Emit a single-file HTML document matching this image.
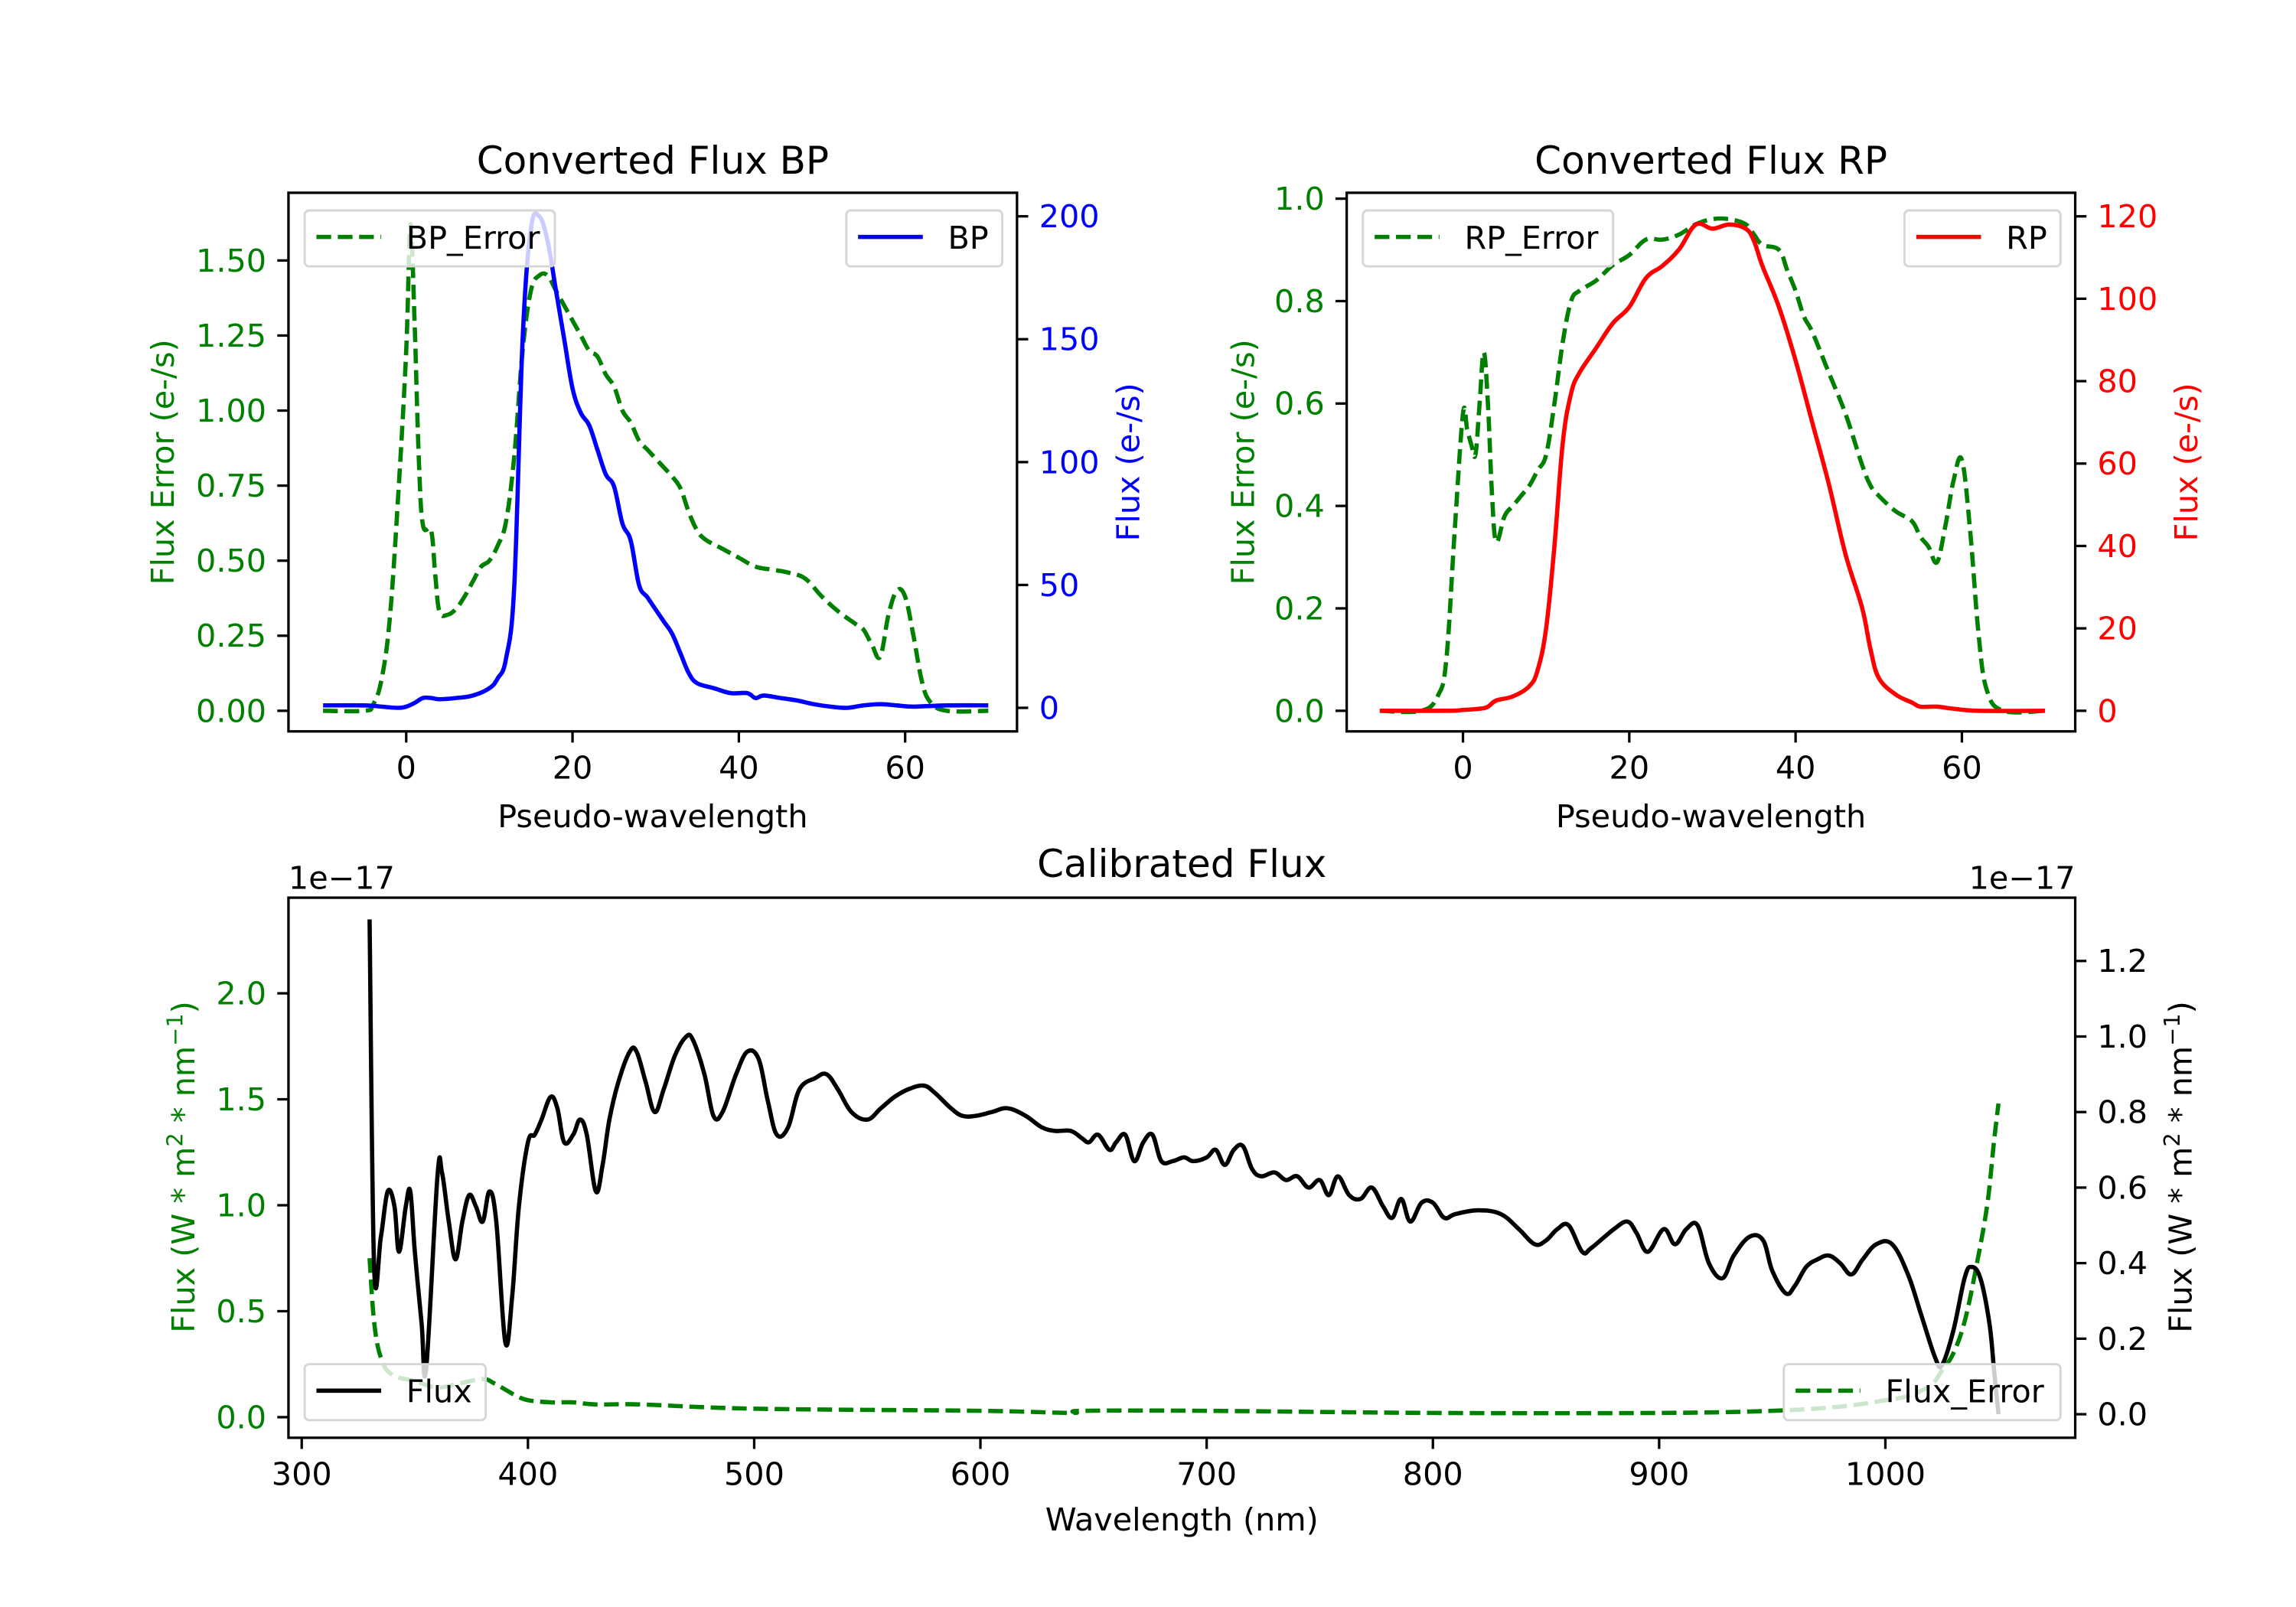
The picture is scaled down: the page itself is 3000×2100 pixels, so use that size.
<!DOCTYPE html>
<html><head><meta charset="utf-8"><style>
html,body{margin:0;padding:0;background:#fff;}
svg{display:block;font-family:"DejaVu Sans","Liberation Sans",sans-serif;}
</style></head><body>
<svg id="fig" width="3000" height="2100" viewBox="0 0 1560 1092" xmlns="http://www.w3.org/2000/svg"></svg>
<script>
// ---------- data ----------
const bpErrX=[-10,-5,-4,-3,-2,-1,0,0.5,1,1.5,2,3,3.5,4,5,6,7,8,9,10,11,12,13,14,15,16,17,18,19,20,21,22,23,24,25,26,27,28,29,30,31,32,33,34,35,36,38,40,42,44,46,48,50,52,54,55,56,57,58,59,60,61,62,63,65,70];
const bpErrY=[0,0,0.02,0.1,0.3,0.7,1.2,1.62,1.3,0.85,0.62,0.6,0.45,0.33,0.32,0.34,0.38,0.43,0.48,0.5,0.55,0.63,0.85,1.2,1.4,1.45,1.45,1.4,1.35,1.3,1.25,1.2,1.18,1.12,1.08,1.0,0.96,0.9,0.87,0.84,0.81,0.78,0.74,0.66,0.6,0.57,0.54,0.51,0.48,0.47,0.46,0.44,0.38,0.33,0.29,0.27,0.22,0.18,0.32,0.4,0.38,0.25,0.1,0.03,0,0];
const bpX=[-10,-5,-3,-1,0,1,2,3,4,6,8,10,11,12,13,14,15,16,17,18,19,20,21,22,23,24,25,26,27,28,29,30,31,32,33,34,35,37,39,41,42,43,45,47,49,51,53,55,57,59,61,65,70];
const bpY=[1,1,0.5,0,0.5,2,4,4,3.5,4,5,8,12,20,50,150,195,200,190,170,150,130,120,115,105,95,90,75,68,50,45,40,35,30,22,14,10,8,6,6,4,5,4,3,1.5,0.5,0,1,1.5,1,0.5,1,1];
const rpErrX=[-10,-5,-3,-2,-1,0,0.5,1,1.5,2,2.5,3,3.5,4,5,6,7,8,9,10,11,12,13,14,16,18,20,22,24,26,28,30,32,34,35,36,38,39,40,41,42,44,46,48,49,50,52,54,55,56,57,58,59,60,61,62,63,65,70];
const rpErrY=[0,0,0.03,0.1,0.35,0.58,0.55,0.52,0.5,0.6,0.7,0.6,0.42,0.33,0.38,0.4,0.42,0.44,0.47,0.5,0.6,0.72,0.8,0.82,0.84,0.87,0.89,0.92,0.92,0.93,0.95,0.96,0.96,0.95,0.93,0.91,0.9,0.86,0.82,0.77,0.74,0.66,0.58,0.48,0.44,0.42,0.39,0.37,0.34,0.32,0.29,0.36,0.45,0.49,0.35,0.15,0.04,0,0];
const rpX=[-10,-2,0,2,3,4,6,8,9,10,11,12,13,14,16,18,20,22,24,26,28,30,32,34,35,36,38,40,42,44,46,48,49,50,52,54,55,57,59,62,70];
const rpY=[0,0,0.2,0.5,1,2.5,3.5,6,10,20,40,65,77,82,88,94,98,105,108,112,118,117,118,117,114,108,98,85,70,55,38,25,15,8,4,2,1,1,0.5,0,0];
const calWl=[330,332,335,338,341,343,346,348,350,353,355,360,362,365,368,371,374,377,380,383,386,390,393,396,400,403,406,410,413,416,420,423,426,430,433,436,440,445,448,452,456,460,465,470,473,478,482,486,492,497,502,506,510,515,520,527,532,537,543,550,556,562,568,575,580,587,592,598,605,612,620,627,633,640,645,648,652,657,660,664,668,672,676,680,685,690,694,700,704,708,712,716,720,724,730,735,740,745,750,754,758,763,768,773,778,782,786,790,795,800,805,810,820,830,838,845,850,855,860,866,870,880,886,890,895,902,907,912,917,922,928,933,940,946,950,956,960,965,970,975,980,985,990,996,1003,1010,1016,1022,1025,1030,1035,1038,1042,1046,1048,1050];
const calFlux=[1.31,0.39,0.47,0.59,0.55,0.43,0.55,0.59,0.43,0.24,0.12,0.63,0.64,0.51,0.41,0.51,0.58,0.55,0.51,0.59,0.51,0.19,0.31,0.55,0.72,0.74,0.78,0.84,0.81,0.72,0.74,0.78,0.74,0.59,0.66,0.78,0.88,0.96,0.96,0.88,0.80,0.86,0.95,1.00,0.99,0.90,0.79,0.80,0.90,0.96,0.94,0.83,0.74,0.76,0.86,0.89,0.90,0.86,0.80,0.78,0.81,0.84,0.86,0.87,0.85,0.81,0.79,0.79,0.80,0.81,0.79,0.76,0.75,0.75,0.73,0.72,0.74,0.70,0.72,0.74,0.67,0.72,0.74,0.67,0.67,0.68,0.67,0.68,0.70,0.66,0.70,0.71,0.65,0.63,0.64,0.62,0.63,0.60,0.62,0.58,0.63,0.58,0.57,0.60,0.55,0.52,0.57,0.51,0.56,0.56,0.52,0.53,0.54,0.53,0.49,0.45,0.46,0.49,0.50,0.43,0.44,0.49,0.51,0.48,0.43,0.49,0.45,0.49,0.50,0.40,0.36,0.42,0.47,0.46,0.38,0.32,0.34,0.39,0.41,0.42,0.40,0.37,0.41,0.45,0.45,0.37,0.26,0.15,0.13,0.22,0.36,0.39,0.36,0.24,0.12,0.0];
const errWl=[330,332,335,340,350,360,370,380,385,390,395,400,410,420,430,450,500,600,640,645,700,800,900,950,980,1000,1010,1020,1025,1030,1035,1040,1045,1048,1050];
const errFlux=[0.75,0.45,0.28,0.2,0.17,0.14,0.16,0.18,0.16,0.13,0.1,0.08,0.07,0.07,0.06,0.06,0.04,0.03,0.02,0.03,0.03,0.02,0.02,0.03,0.05,0.08,0.1,0.15,0.22,0.3,0.45,0.7,1.0,1.3,1.48];
const bpLeftTicks=[0,0.25,0.5,0.75,1.0,1.25,1.5];
const bpRightTicks=[0,50,100,150,200];
const rpLeftTicks=[0,0.2,0.4,0.6,0.8,1.0];
const rpRightTicks=[0,20,40,60,80,100,120];
const pwTicks=[0,20,40,60];
const wlTicks=[300,400,500,600,700,800,900,1000];
const calLeftTicks=[0,0.5,1.0,1.5,2.0];
const calRightTicks=[0,0.2,0.4,0.6,0.8,1.0,1.2];

// ---------- helpers ----------
const NS="http://www.w3.org/2000/svg";
const svg=document.getElementById('fig');
function el(tag,attrs,parent,txt){const e=document.createElementNS(NS,tag);for(const k in attrs)e.setAttribute(k,attrs[k]);if(txt!==undefined)e.textContent=txt;(parent||svg).appendChild(e);return e;}
function lin(d0,d1,p0,p1){return v=>p0+(v-d0)*(p1-p0)/(d1-d0);}
const LW=2.9, DASH='10,4.5';
function path(xs,ys,sx,sy,stroke,dash,name,clip){
  const P=xs.map((x,i)=>[sx(x),sy(ys[i])]);
  let d='M'+P[0][0].toFixed(2)+','+P[0][1].toFixed(2);
  const t=0.18;
  for(let i=0;i<P.length-1;i++){
    const p0=P[Math.max(0,i-1)],p1=P[i],p2=P[i+1],p3=P[Math.min(P.length-1,i+2)];
    const c1=[p1[0]+(p2[0]-p0[0])*t,p1[1]+(p2[1]-p0[1])*t];
    const c2=[p2[0]-(p3[0]-p1[0])*t,p2[1]-(p3[1]-p1[1])*t];
    d+='C'+c1[0].toFixed(2)+','+c1[1].toFixed(2)+' '+c2[0].toFixed(2)+','+c2[1].toFixed(2)+' '+p2[0].toFixed(2)+','+p2[1].toFixed(2);
  }
  const p=el('path',{d:d,fill:'none',stroke:stroke,'stroke-width':LW,'stroke-linejoin':'round'});
  if(dash)p.setAttribute('stroke-dasharray',DASH);
  if(clip)p.setAttribute('clip-path','url(#'+clip+')');
  
  
  return p;
}
function fmt(v,dec){return v.toFixed(dec).replace('-','\u2212');}
const FS=21.5;
function frame(x0,y0,x1,y1,name){
  const r=el('rect',{x:x0,y:y0,width:x1-x0,height:y1-y0,fill:'none',stroke:'#000','stroke-width':1.7});
  
  
}
function xTicks(ticks,sx,y,dec){
  ticks.forEach(t=>{const x=sx(t);el('line',{x1:x,x2:x,y1:y,y2:y+7.6,stroke:'#000','stroke-width':1.7});
    const tx=el('text',{x:x,y:y+32,'font-size':FS,'text-anchor':'middle'},svg,fmt(t,dec));
    
    });
}
function yTicks(ticks,sy,x,side,dec,color){
  ticks.forEach(t=>{const y=sy(t);const dx=side<0?-7.6:7.6;
    el('line',{x1:x,x2:x+dx,y1:y,y2:y,stroke:'#000','stroke-width':1.7});
    const tx=el('text',{x:x+(side<0?-15:15),y:y+7.5,'font-size':FS,'text-anchor':side<0?'end':'start',fill:color},svg,fmt(t,dec));
    
    });
}
function vlabel(x,y,txt,color,name){
  const t=el('text',{x:x,y:y,'font-size':FS,'text-anchor':'middle',fill:color,transform:'rotate(-90 '+x+' '+y+')'});
  t.innerHTML=txt;
  
  
}
function label(x,y,txt,size,name,anchor){
  const t=el('text',{x:x,y:y,'font-size':size,'text-anchor':anchor||'middle'},svg,txt);
  
  
}
function legend(x,y,w,txt,color,dash,name){
  const g=el('g',{});
  
  
  el('rect',{x:x,y:y,width:w,height:38,rx:3,fill:'rgba(255,255,255,0.8)',stroke:'#d6d6d6','stroke-width':1.5},g);
  const l=el('line',{x1:x+8,x2:x+52,y1:y+18,y2:y+18,stroke:color,'stroke-width':LW},g);
  if(dash)l.setAttribute('stroke-dasharray',DASH);
  el('text',{x:x+69,y:y+26,'font-size':FS},g,txt);
}
function clipRect(id,x0,y0,x1,y1){const c=el('clipPath',{id:id});el('rect',{x:x0,y:y0,width:x1-x0,height:y1-y0},c);}

// ---------- BP panel ----------
(function(){
  const L=196,R=691,T=131,B=497;
  clipRect('cbp',L,T,R,B);
  const sx=lin(0,20,276,389), syl=lin(0,1.5,483,177), syr=lin(0,200,481,147);
  path(bpErrX,bpErrY,sx,syl,'#008000',true,'bp-error-line','cbp');
  path(bpX,bpY,sx,syr,'#0000ff',false,'bp-flux-line','cbp');
  frame(L,T,R,B,'bp-plot-area');
  xTicks(pwTicks,sx,B,0);
  yTicks(bpLeftTicks,syl,L,-1,2,'#008000');
  yTicks(bpRightTicks,syr,R,1,0,'#0000ff');
  label((L+R)/2,118,'Converted Flux BP',26,'bp-title');
  label((L+R)/2,562,'Pseudo-wavelength',FS,'bp-x-axis-title');
  vlabel(118,314,'Flux Error (e-/s)','#008000','bp-left-axis-title');
  vlabel(774,314,'Flux (e-/s)','#0000ff','bp-right-axis-title');
  legend(207,143,170,'BP_Error','#008000',true,'bp-error-legend');
  legend(575,143,106,'BP','#0000ff',false,'bp-legend');
})();

// ---------- RP panel ----------
(function(){
  const L=915,R=1410,T=131,B=497;
  clipRect('crp',L,T,R,B);
  const sx=lin(0,20,994,1107), syl=lin(0,1.0,483,135), syr=lin(0,120,483,147);
  path(rpErrX,rpErrY,sx,syl,'#008000',true,'rp-error-line','crp');
  path(rpX,rpY,sx,syr,'#ff0000',false,'rp-flux-line','crp');
  frame(L,T,R,B,'rp-plot-area');
  xTicks(pwTicks,sx,B,0);
  yTicks(rpLeftTicks,syl,L,-1,1,'#008000');
  yTicks(rpRightTicks,syr,R,1,0,'#ff0000');
  label((L+R)/2,118,'Converted Flux RP',26,'rp-title');
  label((L+R)/2,562,'Pseudo-wavelength',FS,'rp-x-axis-title');
  vlabel(852,314,'Flux Error (e-/s)','#008000','rp-left-axis-title');
  vlabel(1493,314,'Flux (e-/s)','#ff0000','rp-right-axis-title');
  legend(926,143,170,'RP_Error','#008000',true,'rp-error-legend');
  legend(1294,143,106,'RP','#ff0000',false,'rp-legend');
})();

// ---------- Calibrated panel ----------
(function(){
  const L=196,R=1410,T=610,B=977;
  clipRect('ccal',L,T,R,B);
  const sx=lin(300,1000,205,1281), syl=lin(0,2.0,963,675), syr=lin(0,1.2,961,653);
  path(errWl,errFlux,sx,syl,'#008000',true,'flux-error-line','ccal');
  path(calWl,calFlux,sx,syr,'#000000',false,'calibrated-flux-line','ccal');
  frame(L,T,R,B,'calibrated-plot-area');
  xTicks(wlTicks,sx,B,0);
  yTicks(calLeftTicks,syl,L,-1,1,'#008000');
  yTicks(calRightTicks,syr,R,1,1,'#000000');
  label((L+R)/2,596,'Calibrated Flux',26,'calibrated-title');
  label((L+R)/2,1040,'Wavelength (nm)',FS,'calibrated-x-axis-title');
  label(196,604,'1e\u221217',FS,'left-offset-label','start');
  label(1410,604,'1e\u221217',FS,'right-offset-label','end');
  vlabel(132,793,'Flux (W * m<tspan dy="-8" font-size="15">2</tspan><tspan dy="8"> * nm</tspan><tspan dy="-8" font-size="15">\u22121</tspan><tspan dy="8">)</tspan>','#008000','calibrated-left-axis-title');
  vlabel(1489,793,'Flux (W * m<tspan dy="-8" font-size="15">2</tspan><tspan dy="8"> * nm</tspan><tspan dy="-8" font-size="15">\u22121</tspan><tspan dy="8">)</tspan>','#000000','calibrated-right-axis-title');
  legend(207,927,123,'Flux','#000000',false,'flux-legend');
  legend(1212,927,188,'Flux_Error','#008000',true,'flux-error-legend');
})();
</script>
</body></html>
